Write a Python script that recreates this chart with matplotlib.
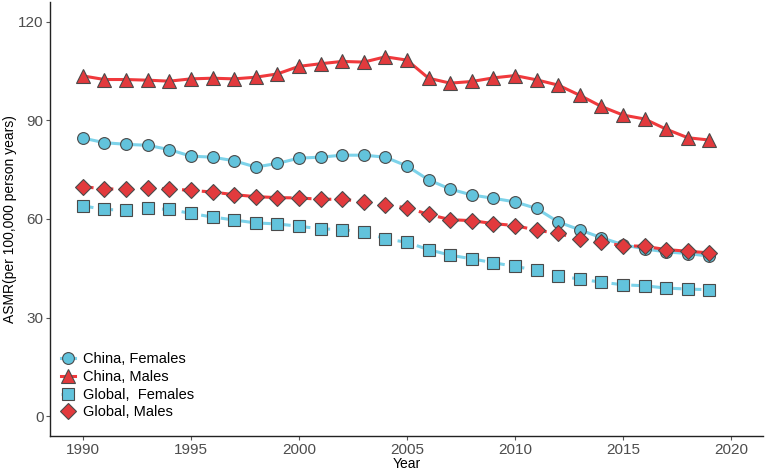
import matplotlib.pyplot as plt

plt.rcParams['font.family'] = ['Liberation Sans', 'DejaVu Sans']

years = list(range(1990, 2020))

# ASMR values
china_females = [84.6, 83.2, 82.7, 82.4, 81.1, 79.1, 78.8, 77.7, 75.8, 76.9,
                 78.5, 78.8, 79.4, 79.4, 78.8, 76.1, 71.9, 69.1, 67.3, 66.3,
                 65.2, 63.2, 59.1, 56.7, 54.3, 52.2, 50.9, 50.0, 49.5, 48.7]
china_males = [103.5, 102.4, 102.4, 102.2, 101.9, 102.6, 102.8, 102.6, 103.1, 104.1,
               106.4, 107.2, 107.9, 107.7, 109.3, 108.3, 102.8, 101.3, 101.8, 102.9,
               103.6, 102.3, 100.7, 97.6, 94.2, 91.6, 90.4, 87.3, 84.7, 84.0]
global_females = [64.0, 62.9, 62.7, 63.2, 62.9, 61.7, 60.6, 59.7, 58.8, 58.5,
                  57.8, 57.0, 56.8, 56.0, 54.0, 52.9, 50.7, 49.0, 47.9, 46.7,
                  45.6, 44.4, 42.8, 41.7, 40.8, 40.0, 39.7, 39.0, 38.7, 38.5]
global_males = [69.8, 69.2, 69.0, 69.4, 69.2, 68.7, 68.2, 67.4, 66.8, 66.5,
                66.4, 66.0, 66.0, 65.3, 64.3, 63.4, 61.4, 59.8, 59.5, 58.6,
                58.0, 56.6, 55.6, 53.9, 52.9, 51.9, 51.7, 50.7, 50.2, 49.7]

blue_line = '#7dd3ea'
blue_fill = '#62c3dc'
red_line = '#f0393c'
red_fill = '#e23a3d'
edge = '#4a4a4a'

fig = plt.figure(figsize=(7.67, 4.73), dpi=100)
ax = fig.add_axes([0.0658, 0.078, 0.9296, 0.918])

ax.plot(years, china_females, color=blue_line, lw=2.2, marker='o', ms=8.5,
        mfc=blue_fill, mec=edge, mew=0.8, label='China, Females')
ax.plot(years, china_males, color=red_line, lw=2.2, marker='^', ms=10.5,
        mfc=red_fill, mec=edge, mew=0.8, label='China, Males')
ax.plot(years, global_females, color=blue_line, lw=2.2, dashes=(3.5, 3),
        marker='s', ms=8, mfc=blue_fill, mec=edge, mew=0.8, label='Global,  Females')
ax.plot(years, global_males, color=red_line, lw=2.2, dashes=(3.5, 3),
        marker='D', ms=8, mfc=red_fill, mec=edge, mew=0.8, label='Global, Males')

ax.set_xlim(1988.5, 2021.5)
ax.set_ylim(-6, 126)
ax.set_xticks(range(1990, 2021, 5))
ax.set_yticks(range(0, 121, 30))

for s in ['top', 'right']:
    ax.spines[s].set_visible(False)
for s in ['left', 'bottom']:
    ax.spines[s].set_linewidth(1.0)
    ax.spines[s].set_color('#222222')

ax.tick_params(axis='both', length=3, width=0.8, color='#555555',
               labelsize=11, labelcolor='#4d4d4d', pad=2)

ax.set_xlabel('Year', fontsize=10, labelpad=0)
ax.set_ylabel('ASMR(per 100,000 person years)', fontsize=10, labelpad=1)

ax.legend(loc='lower left', bbox_to_anchor=(0.0, 0.015), frameon=False,
          fontsize=10.5, handlelength=1.0, handletextpad=0.5,
          labelspacing=0.25, borderaxespad=0.3)

plt.savefig('out.png', dpi=100)
